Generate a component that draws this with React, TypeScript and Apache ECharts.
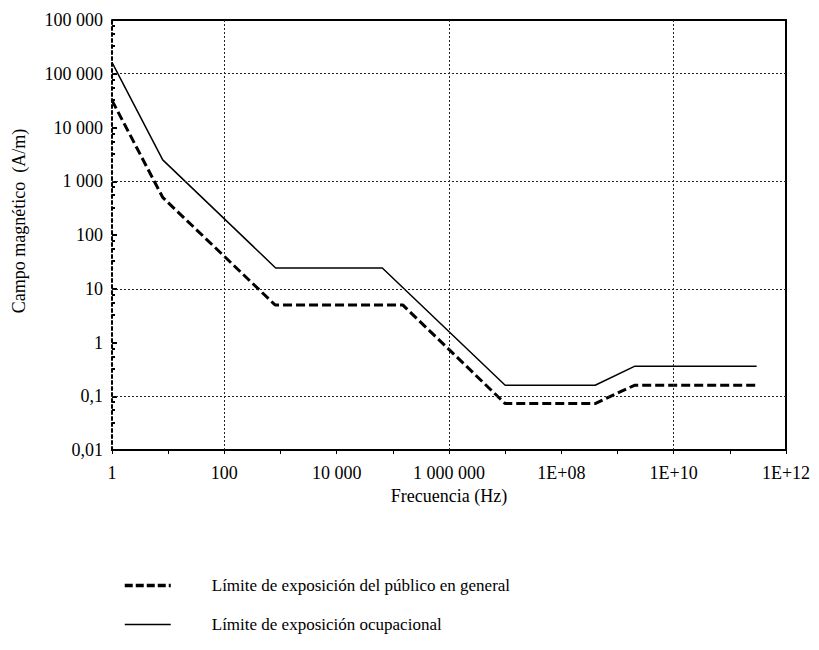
import React, { useEffect, useRef } from "react";
import * as echarts from "echarts";

// Frequencies (Hz) and magnetic field limits (A/m)
const occupFreq = [1, 8, 820, 65000, 1e7, 4e8, 2e9, 3e11];
const occupH = [163000, 2500, 24.4, 24.4, 0.16, 0.16, 0.36, 0.36];
const publicFreq = [1, 8, 800, 150000, 1e7, 4e8, 2e9, 3e11];
const publicH = [32000, 500, 5, 5, 0.073, 0.073, 0.16, 0.16];

const publicName = "Límite de exposición del público en general";
const occupName = "Límite de exposición ocupacional";

// tick labels by decade exponent
const xTickExp = [0, 2, 4, 6, 8, 10, 12];
const xTickLabels = ["1", "100", "10 000", "1 000 000", "1E+08", "1E+10", "1E+12"];
const yTickExp = [-2, -1, 0, 1, 2, 3, 4, 5, 6];
const yTickLabels = ["0,01", "0,1", "1", "10", "100", "1 000", "10 000", "100 000", "100 000"];

// dotted reference grid lines
const gridX = [100, 1e6, 1e10];
const gridY = [1e5, 1e3, 10, 0.1];

const FONT = "Liberation Serif";

export default function App() {
  const ref = useRef<HTMLDivElement>(null);
  useEffect(() => {
    if (!ref.current) return;
    const chart = echarts.init(ref.current, null, { renderer: "svg" });
    const zip = (xs: number[], ys: number[]) => xs.map((x, i) => [x, ys[i]]);
    const labelFor = (exps: number[], labels: string[]) => (v: number) => {
      const e = Math.round(Math.log10(v));
      const i = exps.indexOf(e);
      return i >= 0 ? labels[i] : "";
    };
    const gridLine = { type: [2, 2], color: "#222", width: 1 };
    chart.setOption({
      animation: false,
      backgroundColor: "#fff",
      grid: { left: 112, right: 33, top: 20, bottom: 200, show: false },
      legend: {
        orient: "vertical",
        left: 118,
        top: 572,
        itemWidth: 46,
        itemHeight: 14,
        itemGap: 22,
        selectedMode: false,
        data: [
          { name: publicName, lineStyle: { width: 3.5, type: [8, 3] } },
          { name: occupName, lineStyle: { width: 1.5 } },
        ],
        itemStyle: { color: "transparent", borderWidth: 0, opacity: 0 },
        textStyle: { fontFamily: FONT, fontSize: 17, color: "#000", padding: [0, 0, 0, 36] },
      },
      xAxis: [
        {
          type: "log",
          logBase: 10,
          min: 1,
          max: 1e12,
          interval: 1,
          splitNumber: 12,
          name: "Frecuencia (Hz)",
          nameLocation: "middle",
          nameGap: 36,
          nameTextStyle: { fontFamily: FONT, fontSize: 18, color: "#000" },
          axisLine: { show: true, lineStyle: { color: "#000", width: 2 } },
          axisTick: { show: true, length: 4, lineStyle: { color: "#000" } },
          axisLabel: {
            fontFamily: FONT,
            fontSize: 18,
            color: "#000",
            margin: 14,
            formatter: labelFor(xTickExp, xTickLabels),
          },
          splitLine: { show: false },
        },
        {
          type: "log",
          position: "top",
          min: 1,
          max: 1e12,
          axisLine: { show: true, lineStyle: { color: "#000", width: 2 } },
          axisTick: { show: false },
          axisLabel: { show: false },
          splitLine: { show: false },
        },
      ],
      yAxis: [
        {
          type: "log",
          logBase: 10,
          min: 0.01,
          max: 1e6,
          splitNumber: 8,
          name: "Campo magnético  (A/m)",
          nameLocation: "middle",
          nameGap: 84,
          nameTextStyle: { fontFamily: FONT, fontSize: 18, color: "#000", padding: [0, 0, 0, 28] },
          axisLine: { show: true, lineStyle: { color: "#000", width: 2, type: [3, 3] } },
          axisTick: { show: true, inside: true, length: 5, lineStyle: { color: "#000", width: 2 } },
          minorTick: { show: true, splitNumber: 4, length: 3, lineStyle: { color: "#000", width: 2 } },
          axisLabel: {
            fontFamily: FONT,
            fontSize: 18,
            color: "#000",
            margin: 9,
            formatter: labelFor(yTickExp, yTickLabels),
          },
          splitLine: { show: false },
        },
        {
          type: "log",
          position: "right",
          min: 0.01,
          max: 1e6,
          axisLine: { show: true, lineStyle: { color: "#000", width: 2 } },
          axisTick: { show: false },
          axisLabel: { show: false },
          splitLine: { show: false },
        },
      ],
      series: [
        {
          name: publicName,
          type: "line",
          data: zip(publicFreq, publicH),
          symbol: "none",
          lineStyle: { color: "#000", width: 3, type: [9, 4] },
          itemStyle: { color: "#000" },
          markLine: {
            silent: true,
            symbol: "none",
            label: { show: false },
            lineStyle: gridLine,
            data: [
              ...gridX.map((v) => ({ xAxis: v })),
              ...gridY.map((v) => ({ yAxis: v })),
            ],
          },
        },
        {
          name: occupName,
          type: "line",
          data: zip(occupFreq, occupH),
          symbol: "none",
          lineStyle: { color: "#000", width: 1.5 },
          itemStyle: { color: "#000" },
        },
      ],
    });
    return () => chart.dispose();
  }, []);
  return <div ref={ref} style={{ width: 819, height: 650, marginLeft: -8, marginTop: -8 }} />;
}
